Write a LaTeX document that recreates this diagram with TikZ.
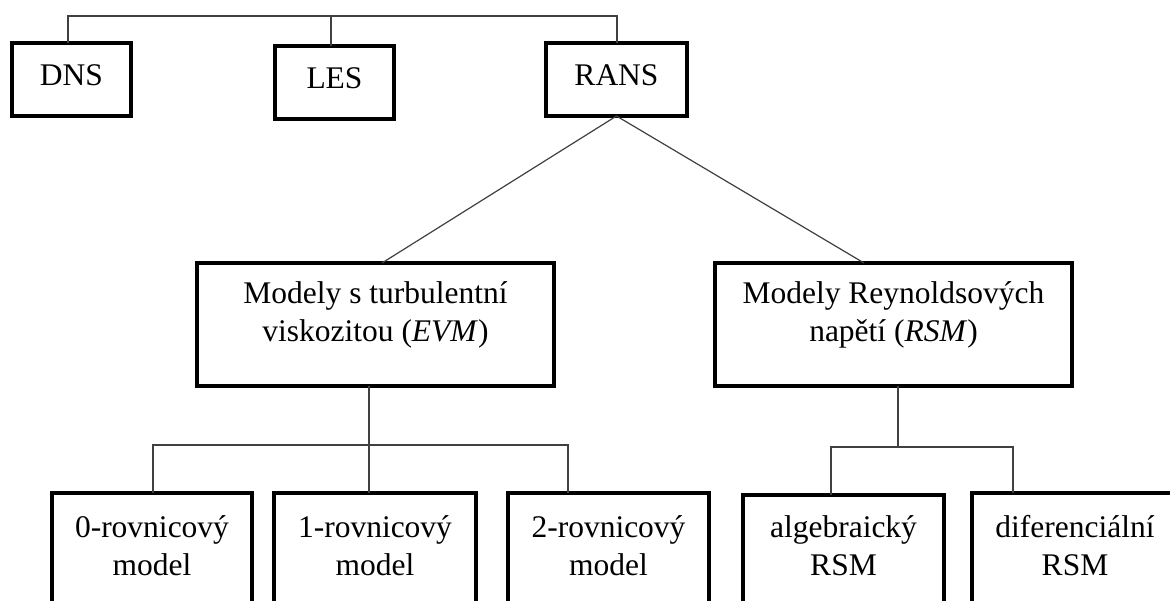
\documentclass[tikz,border=0pt]{standalone}
\usepackage{fontspec}
\setmainfont{Liberation Serif}
\newcommand{\firstln}{\rule{0pt}{30pt}}
\begin{document}
\begin{tikzpicture}[x=1pt,y=-1pt,
  box/.style={draw, line width=3.1pt, inner sep=0pt, outer sep=0pt, rectangle},
  lbl/.style={anchor=north, align=center, inner sep=0pt, outer sep=0pt, font=\fontsize{31.5}{38}\selectfont},
  conn/.style={draw=black!75, line width=1.2pt}]
\useasboundingbox (0,0) rectangle (1170,601);
\clip (0,0) rectangle (1170,601);
\fill[white] (0,0) rectangle (1170,601);

% boxes
\node[box, minimum width=119pt, minimum height=73pt] (dns) at (71.5,79.5) {};
\node[box, minimum width=119pt, minimum height=73pt] (les) at (334.5,82.5) {};
\node[box, minimum width=141pt, minimum height=73pt] (rans) at (616.5,79.5) {};
\node[box, minimum width=357pt, minimum height=123pt] (evm) at (375.5,324.5) {};
\node[box, minimum width=357pt, minimum height=123pt] (rsm) at (893.5,324.5) {};
\node[box, minimum width=200pt, minimum height=167pt] (m0) at (152,576.5) {};
\node[box, minimum width=202pt, minimum height=167pt] (m1) at (375,576.5) {};
\node[box, minimum width=201pt, minimum height=167pt] (m2) at (608.5,576.5) {};
\node[box, minimum width=201pt, minimum height=165pt] (alg) at (843.5,577.5) {};
\node[box, minimum width=206pt, minimum height=167pt] (dif) at (1075,576.5) {};

% labels
\node[lbl] (dnsT) at ([yshift=-13pt]dns.north) {\firstln DNS};
\node[lbl] (lesT) at ([yshift=-13pt]les.north) {\firstln LES};
\node[lbl] (ransT) at ([yshift=-13pt]rans.north) {\firstln RANS};
\node[lbl] (evmT) at ([yshift=-11pt]evm.north) {\firstln Modely s turbulentní\\viskozitou (\textit{EVM})};
\node[lbl] (rsmT) at ([yshift=-11pt]rsm.north) {\firstln Modely Reynoldsových\\napětí (\textit{RSM})};
\node[lbl] (m0T) at ([yshift=-14pt]m0.north) {\firstln 0-rovnicový\\model};
\node[lbl] (m1T) at ([yshift=-14pt]m1.north) {\firstln 1-rovnicový\\model};
\node[lbl] (m2T) at ([yshift=-14pt]m2.north) {\firstln 2-rovnicový\\model};
\node[lbl] (algT) at ([yshift=-12pt]alg.north) {\firstln algebraický\\RSM};
\node[lbl] (difT) at ([yshift=-14pt]dif.north) {\firstln diferenciální\\RSM};

% connectors
\coordinate (bar) at (0,16);
\coordinate (lbar) at (0,445);
\coordinate (rbar) at (0,447);
\draw[conn] ([xshift=-3.5pt]dns.north) -- ([xshift=-3.5pt]dns.north |- bar) -- ([xshift=0.5pt]rans.north |- bar) -- ([xshift=0.5pt]rans.north);
\draw[conn] ([xshift=-3.5pt]les.north) -- ([xshift=-3.5pt]les.north |- bar);
\draw[conn] ([xshift=6.5pt]evm.north) -- (rans.south) -- ([xshift=-29.5pt]rsm.north);
\draw[conn] ([xshift=-6.5pt]evm.south) -- ([xshift=-6.5pt]evm.south |- m1.north);
\draw[conn] ([xshift=1pt]m0.north) -- ([xshift=1pt]m0.north |- lbar) -- ([xshift=-40.5pt]m2.north |- lbar) -- ([xshift=-40.5pt]m2.north);
\draw[conn] ([xshift=4.5pt]rsm.south) -- ([xshift=4.5pt]rsm.south |- rbar);
\draw[conn] ([xshift=-12.5pt]alg.north) -- ([xshift=-12.5pt]alg.north |- rbar) -- ([xshift=-62pt]dif.north |- rbar) -- ([xshift=-62pt]dif.north);
\end{tikzpicture}
\end{document}
